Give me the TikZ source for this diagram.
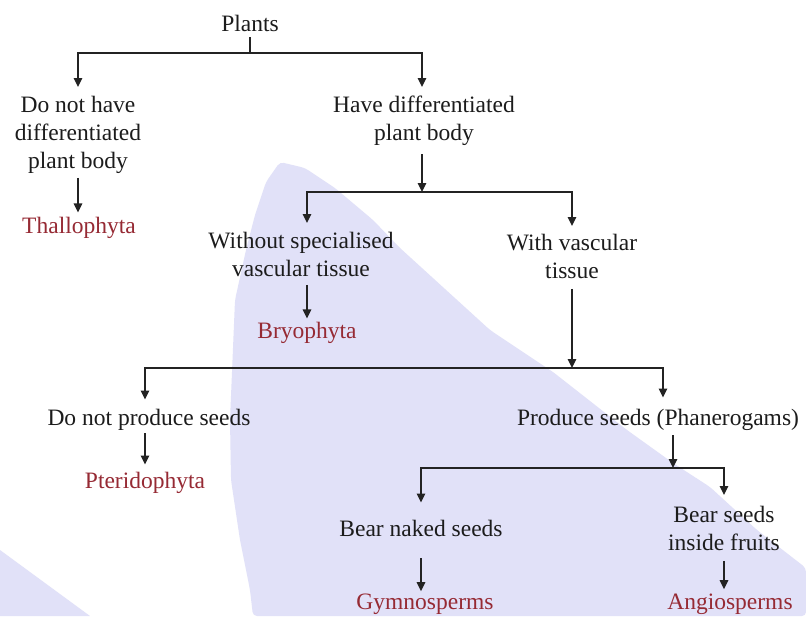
\documentclass[tikz,border=0pt]{standalone}
\usepackage{fontspec}
\setmainfont{Liberation Serif}
\usetikzlibrary{arrows.meta}
\definecolor{linecol}{RGB}{35,35,35}
\definecolor{txtcol}{RGB}{28,28,28}
\definecolor{taxcol}{RGB}{150,42,52}
\definecolor{wmark}{RGB}{225,225,248}
\tikzset{
  ln/.style={draw=linecol, line width=1.5pt},
  arr/.style={ln, -{Triangle[length=9pt,width=8.5pt]}},
  txt/.style={font=\fontsize{23.5}{28}\selectfont, text=txtcol, inner sep=0pt, align=center},
  taxon/.style={txt, text=taxcol},
}
\begin{document}
\begin{tikzpicture}[x=1pt,y=-1pt]
\useasboundingbox (0,0) rectangle (806,616);
\fill[white] (0,0) rectangle (806,616);
% watermark shapes
\fill[wmark, rounded corners=4pt] (280,162) -- (305,168) -- (335,188) -- (373,220) -- (400,248)
  -- (490,330) -- (553,372) -- (627,430) -- (673,463) -- (710,487) -- (757,530) -- (806,568)
  -- (806,616) -- (253,616) -- (250,590) -- (240,540) -- (231,480) -- (230,420) -- (235,300)
  -- (246,250) -- (255,215) -- (266,182) -- cycle;
\fill[wmark] (0,550) -- (90,616) -- (0,616) -- cycle;
% nodes
\node[txt, anchor=base] (plants) at (250,31) {Plants};
\node[txt, anchor=north] (dnh) at (78,96) {Do not have\\differentiated\\plant body};
\node[txt, anchor=north] (hdp) at (424,96) {Have differentiated\\plant body};
\node[taxon, anchor=base] (thal) at (79,233) {Thallophyta};
\node[txt, anchor=north] (wsv) at (301,232) {Without specialised\\vascular tissue};
\node[txt, anchor=north] (wv) at (572,234) {With vascular\\tissue};
\node[taxon, anchor=base] (bry) at (307,338) {Bryophyta};
\node[txt, anchor=base] (dnps) at (149,425) {Do not produce seeds};
\node[txt, anchor=base] (ps) at (658,425) {Produce seeds (Phanerogams)};
\node[taxon, anchor=base] (pter) at (145,488) {Pteridophyta};
\node[txt, anchor=base] (bns) at (421,536) {Bear naked seeds};
\node[txt, anchor=north] (bsif) at (724,506) {Bear seeds\\inside fruits};
\node[taxon, anchor=base] (gym) at (425,609) {Gymnosperms};
\node[taxon, anchor=base] (ang) at (730,609) {Angiosperms};
% junctions
\coordinate (j0) at (250,53);
\coordinate (j1) at (422,192);
\coordinate (j2) at (572,368);
\coordinate (k1) at (663,368);
\coordinate (j3) at (673,468);
% connectors
\draw[ln, shorten <=6pt] (plants.south) -- (j0);
\draw[arr, shorten >=9pt] (j0) -| (dnh.north);
\draw[arr, shorten >=9pt] (j0) -| (j1 |- hdp.north);
\draw[arr, shorten <=4pt, shorten >=4pt] (dnh.south) -- (dnh.south |- thal.north);
\draw[arr, shorten <=8pt] (j1 |- hdp.south) -- (j1);
\draw[arr, shorten >=9pt] (j1) -| (bry |- wsv.north);
\draw[arr, shorten >=8pt] (j1) -| (wv.north);
\draw[arr, shorten <=8pt, shorten >=3pt] (bry |- wsv.south) -- (bry.north);
\draw[arr, shorten <=10pt] (wv.south) -- (j2);
\draw[arr, shorten >=9pt] (j2) -| (pter |- dnps.north);
\draw[arr, shorten >=11pt] (j2) -| (k1 |- ps.north);
\draw[arr, shorten <=3pt, shorten >=7pt] (pter |- dnps.south) -- (pter.north);
\draw[arr, shorten <=5pt] (j3 |- ps.south) -- (j3);
\draw[arr, shorten >=17pt] (j3) -| (bns.north);
\draw[arr, shorten >=11pt] (j3) -| (bsif.north);
\draw[arr, shorten <=22pt, shorten >=2pt] (bns.south) -- (bns.south |- gym.north);
\draw[arr, shorten <=10pt, shorten >=4pt] (bsif.south) -- (bsif.south |- ang.north);
\end{tikzpicture}
\end{document}
